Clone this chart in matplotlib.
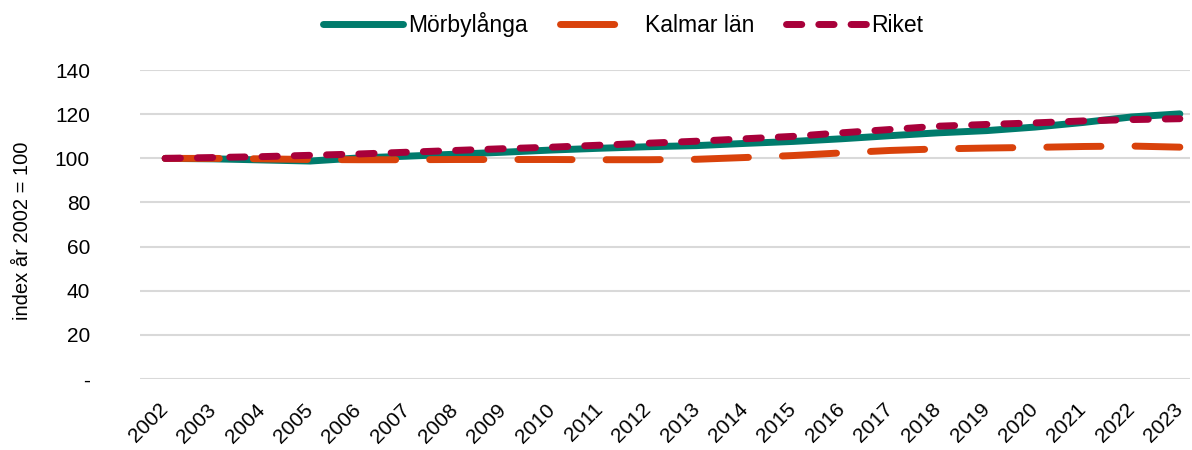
import matplotlib.pyplot as plt
import numpy as np

plt.rcParams['font.family'] = ['Liberation Sans', 'DejaVu Sans']

years = list(range(2002, 2024))
morbylanga = [100, 99.8, 99.3, 98.8, 100.2, 101, 101.9, 102.8, 103.8, 104.6, 105.3, 105.8,
              106.8, 107.7, 108.9, 110.3, 111.6, 112.6, 114.2, 116.3, 118.8, 120.2]
kalmar = [100, 100, 99.8, 99.5, 99.4, 99.4, 99.5, 99.5, 99.5, 99.4, 99.4, 99.6,
          100.4, 101.3, 102.5, 103.6, 104.3, 104.7, 105.0, 105.4, 105.6, 105.1]
riket = [100, 100.4, 100.8, 101.4, 102.0, 102.8, 103.6, 104.4, 105.1, 106.0, 106.9, 107.8,
         108.9, 110.0, 111.6, 113.1, 114.6, 115.4, 116.1, 117.0, 117.6, 118.0]

green = '#007B6C'
orange = '#D9420B'
red = '#A8003A'

fig = plt.figure(figsize=(11.92, 4.5), dpi=100)
ax_left, ax_w = 140 / 1192, 1050 / 1192
ax = fig.add_axes([ax_left, 0.158, ax_w, 0.686])

lw = 5
ax.plot(years, morbylanga, color=green, lw=lw, solid_capstyle='round', label='Mörbylånga', zorder=3)
ax.plot(years, kalmar, color=orange, lw=lw, dashes=(7.8, 4.9), dash_capstyle='round',
        label='Kalmar län', zorder=4)
ax.plot(years, riket, color=red, lw=lw, dashes=(2.2, 2.45), dash_capstyle='round',
        label='Riket', zorder=5)

ax.set_ylim(0, 140)
ax.set_xlim(2001.48, 2023.21)
ax.set_yticks(range(0, 141, 20))
ax.set_yticklabels(['-'] + [str(v) for v in range(20, 141, 20)])
ax.set_xticks(years)
ax.set_xticklabels([str(y) for y in years], rotation=45, ha='right', va='center',
                   rotation_mode='anchor')
ax.tick_params(axis='both', length=0, labelsize=15)
ax.tick_params(axis='y', pad=36)
ax.tick_params(axis='x', pad=20)
ax.grid(axis='y', color='#D9D9D9', lw=1.5)
ax.set_axisbelow(True)
for s in ax.spines.values():
    s.set_visible(False)

ax.set_ylabel('index år 2002 = 100', fontsize=14.5)
ax.yaxis.set_label_coords(-108 / 1050, 0.48)

leg = ax.legend(loc='upper center', bbox_to_anchor=(0.46, 1.255), ncol=3, frameon=False,
                fontsize=16.5, handlelength=3.5, handletextpad=0.2, columnspacing=1.4)

fig.savefig('out.png', dpi=100)
